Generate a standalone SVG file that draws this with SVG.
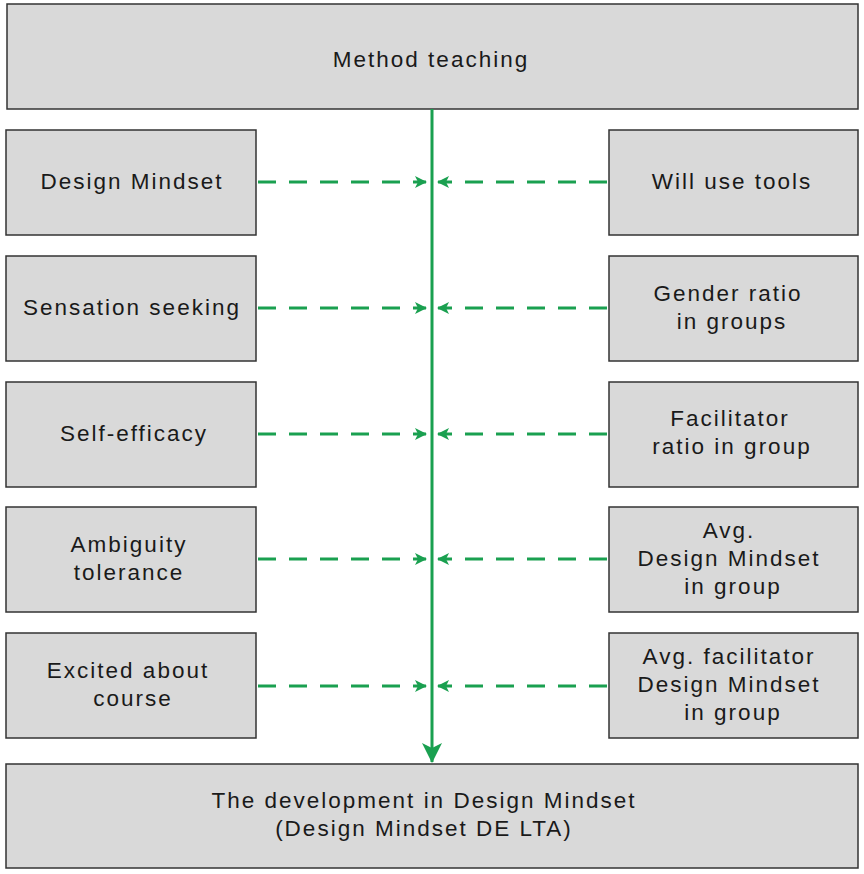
<svg xmlns="http://www.w3.org/2000/svg" width="864" height="874" viewBox="0 0 864 874">
<style>
.b{fill:#d9d9d9;stroke:#333;stroke-width:1.5}
text{font-family:"Liberation Sans",Arial,sans-serif;font-size:22.5px;fill:#1a1a1a;text-anchor:middle;letter-spacing:2px}
.d{stroke:#1aa050;stroke-width:3;stroke-dasharray:18 13;fill:none}
.v{stroke:#1aa050;stroke-width:3;fill:none}
</style>
<defs>
<marker id="a" viewBox="0 0 12 12" refX="11" refY="6" markerWidth="12" markerHeight="12" markerUnits="userSpaceOnUse" orient="auto"><path d="M0,0 L12,6 L0,12 L3,6 Z" fill="#1aa050"/></marker>
<marker id="v" viewBox="0 0 20 20" refX="19" refY="10" markerWidth="20" markerHeight="20" markerUnits="userSpaceOnUse" orient="auto"><path d="M0,0 L20,10 L0,20 L5,10 Z" fill="#1aa050"/></marker>
</defs>
<g id="top"><rect class="b" x="7" y="4" width="851" height="105"/><text x="431" y="67">Method teaching</text></g>
<g id="l1"><rect class="b" x="6" y="130" width="250" height="105"/><text x="132" y="189">Design Mindset</text></g>
<g id="l2"><rect class="b" x="6" y="256" width="250" height="105"/><text x="132" y="315">Sensation seeking</text></g>
<g id="l3"><rect class="b" x="6" y="382" width="250" height="105"/><text x="134" y="441">Self-efficacy</text></g>
<g id="l4"><rect class="b" x="6" y="507" width="250" height="105"/><text x="129" y="552">Ambiguity</text><text x="129" y="580">tolerance</text></g>
<g id="l5"><rect class="b" x="6" y="633" width="250" height="105"/><text x="128" y="678">Excited about</text><text x="133" y="706">course</text></g>
<g id="r1"><rect class="b" x="609" y="130" width="249" height="105"/><text x="732" y="189">Will use tools</text></g>
<g id="r2"><rect class="b" x="609" y="256" width="249" height="105"/><text x="728" y="301">Gender ratio</text><text x="732" y="329">in groups</text></g>
<g id="r3"><rect class="b" x="609" y="382" width="249" height="105"/><text x="730" y="426">Facilitator</text><text x="732" y="454">ratio in group</text></g>
<g id="r4"><rect class="b" x="609" y="507" width="249" height="105"/><text x="729" y="538">Avg.</text><text x="729" y="566">Design Mindset</text><text x="733" y="594">in group</text></g>
<g id="r5"><rect class="b" x="609" y="633" width="249" height="105"/><text x="729" y="664">Avg. facilitator</text><text x="729" y="692">Design Mindset</text><text x="733" y="720">in group</text></g>
<g id="bottom"><rect class="b" x="6" y="764" width="852" height="104"/><text x="424" y="808">The development in Design Mindset</text><text x="424" y="836">(Design Mindset DE LTA)</text></g>
<g id="connectors">
<path class="v" d="M432,109 V762" marker-end="url(#v)"/>
<path class="d" d="M258,182 H426" marker-end="url(#a)"/><path class="d" d="M607,182 H438" marker-end="url(#a)"/>
<path class="d" d="M258,308 H426" marker-end="url(#a)"/><path class="d" d="M607,308 H438" marker-end="url(#a)"/>
<path class="d" d="M258,434 H426" marker-end="url(#a)"/><path class="d" d="M607,434 H438" marker-end="url(#a)"/>
<path class="d" d="M258,559 H426" marker-end="url(#a)"/><path class="d" d="M607,559 H438" marker-end="url(#a)"/>
<path class="d" d="M258,686 H426" marker-end="url(#a)"/><path class="d" d="M607,686 H438" marker-end="url(#a)"/>
</g>
</svg>
